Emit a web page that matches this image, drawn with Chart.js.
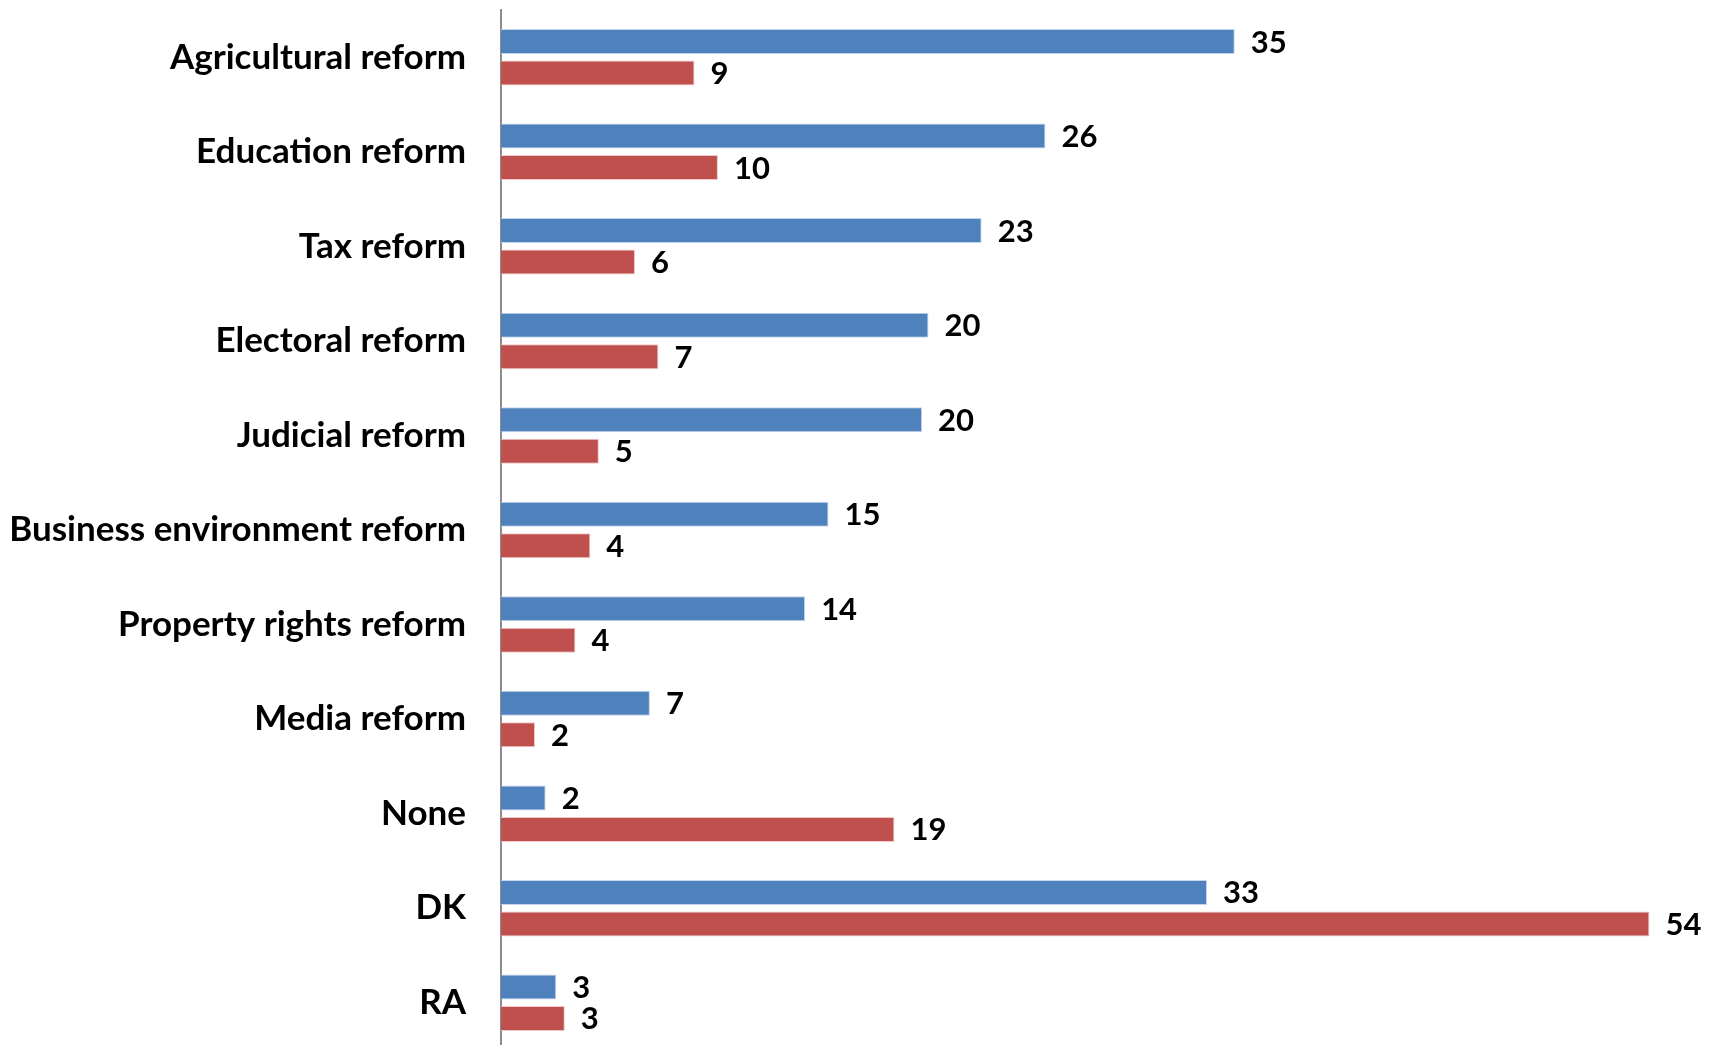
<!DOCTYPE html>
<html>
<head>
<meta charset="utf-8">
<script src="https://cdn.jsdelivr.net/npm/chart.js@4.4.1/dist/chart.umd.min.js"></script>
<style>
  html, body { margin: 0; padding: 0; background: #ffffff; overflow: hidden; width: 1719px; height: 1045px; }
  canvas { display: block; }
</style>
</head>
<body>
<canvas id="c" width="1719" height="1050" style="width:1719px;height:1050px"></canvas>
<script>
const categories = [
  'Agricultural reform',
  'Education reform',
  'Tax reform',
  'Electoral reform',
  'Judicial reform',
  'Business environment reform',
  'Property rights reform',
  'Media reform',
  'None',
  'DK',
  'RA'
];
const blueValues = [34.5, 25.6, 22.6, 20.1, 19.8, 15.4, 14.3, 7.0, 2.1, 33.2, 2.6];
const redValues  = [9.1, 10.2, 6.3, 7.4, 4.6, 4.2, 3.5, 1.6, 18.5, 54.0, 3.0];
const xMin = 0;
const xMax = 56;

const FONT = 'Lato, "Open Sans", sans-serif';

const valueLabels = {
  id: 'valueLabels',
  afterDatasetsDraw(chart) {
    const ctx = chart.ctx;
    ctx.save();
    ctx.font = 'bold 31px ' + FONT;
    ctx.fillStyle = '#000000';
    ctx.textAlign = 'left';
    ctx.textBaseline = 'middle';
    chart.data.datasets.forEach((ds, i) => {
      const meta = chart.getDatasetMeta(i);
      meta.data.forEach((bar, j) => {
        ctx.fillText(String(Math.round(ds.data[j])), bar.x + 16, bar.y + 1);
      });
    });
    ctx.restore();
  }
};

new Chart(document.getElementById('c'), {
  type: 'bar',
  data: {
    labels: categories,
    datasets: [
      {
        label: 'Series 1',
        data: blueValues,
        backgroundColor: '#4F81BD',
        borderColor: 'rgba(190,210,235,0.9)',
        borderWidth: 1,
        categoryPercentage: 0.666,
        barPercentage: 0.794
      },
      {
        label: 'Series 2',
        data: redValues,
        backgroundColor: '#C0504D',
        borderColor: 'rgba(235,195,195,0.9)',
        borderWidth: 1,
        categoryPercentage: 0.666,
        barPercentage: 0.794
      }
    ]
  },
  options: {
    indexAxis: 'y',
    responsive: false,
    maintainAspectRatio: false,
    animation: false,
    devicePixelRatio: 1,
    layout: { padding: { left: 0, right: 27, top: 10, bottom: 0 } },
    plugins: {
      legend: { display: false },
      tooltip: { enabled: false }
    },
    scales: {
      x: {
        display: false,
        min: xMin,
        max: xMax
      },
      y: {
        afterFit(scale) {
          scale.width = 501;
          scale.paddingTop = 0;
          scale.paddingBottom = 0;
        },
        grid: { display: false, drawTicks: false },
        border: { display: true, color: '#8c8c8c', width: 2 },
        ticks: {
          padding: 35,
          color: '#000000',
          font: { family: FONT, size: 35, weight: 'bold' }
        }
      }
    }
  },
  plugins: [valueLabels]
});
</script>
</body>
</html>
